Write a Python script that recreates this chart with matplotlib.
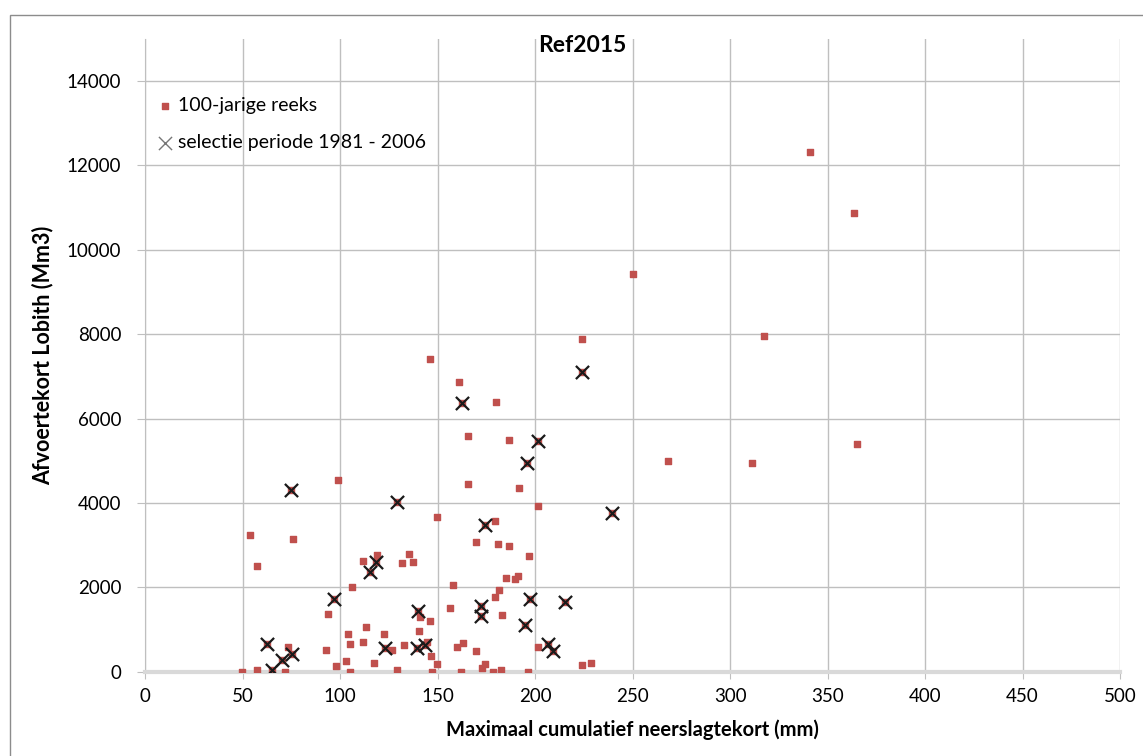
import matplotlib
matplotlib.use("Agg")
import matplotlib.pyplot as plt
from matplotlib.patches import Rectangle

plt.rcParams['font.family'] = ['Lato', 'DejaVu Sans']

# selectie periode 1981 - 2006 (also part of the 100-year series)
sel_x = [74.7, 129.1, 118.4, 115.2, 96.9, 139.8, 123.0, 139.3, 143.4, 62.7, 75.2, 70.1, 65.3,
         224.1, 162.7, 201.7, 196.1, 239.3, 174.4, 197.4, 215.4, 172.3, 172.3, 195.0, 206.5, 209.0]
sel_y = [4306, 4014, 2607, 2363, 1730, 1439, 569, 554, 633, 656, 420, 277, 40,
         7110, 6376, 5468, 4953, 3761, 3476, 1716, 1659, 1557, 1320, 1107, 649, 498]

# remaining years of the 100-jarige reeks
rest_x = [146.2, 98.8, 149.6, 53.8, 75.7, 57.3, 112.0, 119.1, 131.6, 135.4, 137.4, 106.0, 93.7,
          141.0, 146.2, 113.3, 103.9, 122.6, 140.7, 105.1, 112.0, 126.5, 133.0, 144.4, 146.8,
          149.9, 147.2, 129.1, 117.6, 105.1, 103.1, 97.8, 93.0, 73.5, 71.8, 57.3, 49.6,
          224.1, 161.2, 180.2, 165.5, 186.8, 165.5, 191.9, 201.7, 179.5, 169.7, 180.9, 186.8,
          197.1, 185.1, 189.9, 191.5, 157.8, 181.4, 179.3, 156.6, 183.2, 201.4, 163.2, 159.8,
          169.6, 162.1, 172.8, 174.5, 178.6, 182.4, 196.3, 224.1, 228.9,
          341.0, 363.8, 250.3, 317.3, 268.4, 311.4, 365.3]
rest_y = [7404, 4543, 3659, 3240, 3137, 2513, 2624, 2758, 2583, 2782, 2592, 2000, 1360,
          1289, 1194, 1059, 893, 893, 957, 649, 711, 514, 625, 697, 372,
          175, 0, 40, 213, 0, 254, 135, 514, 578, 0, 40, 0,
          7885, 6858, 6400, 5594, 5484, 4456, 4354, 3934, 3571, 3081, 3019, 2979,
          2749, 2213, 2197, 2268, 2062, 1944, 1770, 1517, 1344, 578, 673, 578,
          491, 0, 80, 175, 0, 40, 0, 152, 206,
          12320, 10880, 9418, 7965, 4993, 4939, 5389]

reeks_x = rest_x + sel_x
reeks_y = rest_y + sel_y

x_ticks = list(range(0, 501, 50))
y_ticks = list(range(0, 14001, 2000))

fig = plt.figure(figsize=(11.43, 7.56), dpi=100)
ax = fig.add_axes([0.1269, 0.1115, 0.853, 0.8373])

ax.scatter(reeks_x, reeks_y, marker='s', s=24, color='#c0504d', zorder=3,
           label='100-jarige reeks')
ax.scatter(sel_x, sel_y, marker='x', s=90, color='#1a1a1a', linewidths=1.6, zorder=4,
           label='selectie periode 1981 - 2006')

ax.set_xlim(0, 500)
ax.set_ylim(0, 15000)
ax.set_xticks(x_ticks)
ax.set_yticks(y_ticks)
ax.grid(True, color='#bfbfbf', linewidth=1)
ax.set_axisbelow(True)

for s in ['top', 'right']:
    ax.spines[s].set_visible(False)
ax.spines['left'].set_color('#bfbfbf')
ax.spines['bottom'].set_color('#d9d9d9')
ax.spines['bottom'].set_linewidth(3)
ax.tick_params(axis='y', length=6, color='#bfbfbf', pad=11, labelsize=13.5)
ax.tick_params(axis='x', length=5, color='#bfbfbf', pad=7, labelsize=13.5)

fig.text(582 / 1143, 1 - 45 / 756, 'Ref2015', fontsize=16.5, fontweight='bold',
         ha='center', va='center')
ax.set_xlabel('Maximaal cumulatief neerslagtekort (mm)', fontsize=14.5, fontweight='bold', labelpad=10)
ax.set_ylabel('Afvoertekort Lobith (Mm3)', fontsize=15.5, fontweight='bold', labelpad=10)

leg = ax.legend(loc='upper left', bbox_to_anchor=(0.0045, 0.9205), frameon=False, fontsize=14,
                labelspacing=1.03, handletextpad=0.27, borderaxespad=0, handlelength=0.8)
leg.legend_handles[1].set_color('#777777')
leg.legend_handles[1].set_linewidth(1.0)

fig.patches.append(Rectangle((10 / 1143, -0.1), 1.2, (756 - 15) / 756 + 0.1,
                             transform=fig.transFigure, fill=False,
                             edgecolor='#8c8c8c', linewidth=1))

fig.savefig('out.png', dpi=100)
